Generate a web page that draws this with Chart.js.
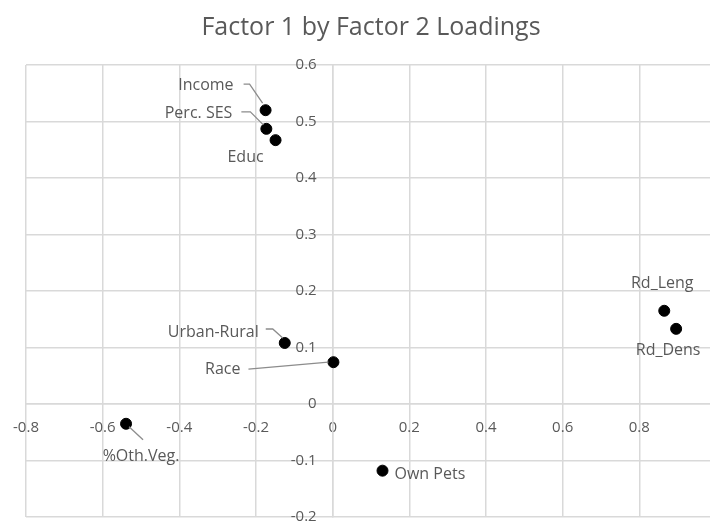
<!DOCTYPE html>
<html>
<head>
<meta charset="utf-8">
<script src="https://cdn.jsdelivr.net/npm/chart.js@4/dist/chart.umd.min.js"></script>
<style>
  html, body { margin: 0; padding: 0; background: #fff; overflow: hidden; }
  #wrap { width: 718px; height: 521px; }
</style>
</head>
<body>
<div id="wrap"><canvas id="chart"></canvas></div>
<script>
"use strict"

// nomi delle variabili e carichi fattoriali
const varNames = ["Income", "Perc. SES", "Educ", "Urban-Rural", "Race", "%Oth.Veg.", "Own Pets", "Rd_Leng", "Rd_Dens"];
const factor2 = [-0.175, -0.173, -0.149, -0.125, 0.002, -0.539, 0.130, 0.865, 0.896];
const factor1 = [0.520, 0.487, 0.467, 0.108, 0.074, -0.035, -0.118, 0.165, 0.133];

const xTicks = [-0.8, -0.6, -0.4, -0.2, 0, 0.2, 0.4, 0.6, 0.8, 1.0];
const yTicks = [-0.2, -0.1, 0, 0.1, 0.2, 0.3, 0.4, 0.5, 0.6];

// posizione delle etichette rispetto al punto (solo stile)
const labelLayout = {
    "Income":      { dx: -32, dy: -25, align: "right",  leader: [[-22, -26], [-16, -26], [-3, -7]] },
    "Perc. SES":   { dx: -34, dy: -15, align: "right",  leader: [[-25, -17], [-16, -17], [-3, -4]] },
    "Educ":        { dx: -30, dy: 17,  align: "center", leader: null },
    "Urban-Rural": { dx: -26, dy: -11, align: "right",  leader: [[-19, -14], [-12, -14], [-2, -5]] },
    "Race":        { dx: -93, dy: 7,   align: "right",  leader: [[-85, 7], [-5, 0]] },
    "%Oth.Veg.":   { dx: 15,  dy: 33,  align: "center", leader: [[3, 3], [17, 16]] },
    "Own Pets":    { dx: 12,  dy: 4,   align: "left",   leader: null },
    "Rd_Leng":     { dx: -2,  dy: -27, align: "center", leader: null },
    "Rd_Dens":     { dx: -8,  dy: 22,  align: "center", leader: null }
};

const textColor = "#595959";
const gridColor = "#d9d9d9";
const fontFamily = "'Open Sans', sans-serif";

let points = [];
for (let i = 0; i < varNames.length; i++) {
    points.push({ x: factor2[i], y: factor1[i] });
}

// disegna le etichette dei punti con le linee guida
const pointLabels = {
    id: "pointLabels",
    afterDatasetsDraw(chart) {
        const ctx = chart.ctx;
        const meta = chart.getDatasetMeta(0);
        ctx.save();
        ctx.font = "16px " + fontFamily;
        ctx.textBaseline = "middle";
        meta.data.forEach((pt, i) => {
            const lay = labelLayout[varNames[i]];
            if (lay.leader) {
                ctx.strokeStyle = "#8c8c8c";
                ctx.lineWidth = 1.3;
                ctx.beginPath();
                lay.leader.forEach((p, k) => {
                    if (k == 0) ctx.moveTo(pt.x + p[0], pt.y + p[1]);
                    else ctx.lineTo(pt.x + p[0], pt.y + p[1]);
                });
                ctx.stroke();
            }
            ctx.fillStyle = textColor;
            ctx.textAlign = lay.align;
            ctx.fillText(varNames[i], pt.x + lay.dx, pt.y + lay.dy);
        });
        ctx.restore();
    }
};

// gli assi al centro non devono rubare spazio all'area del grafico
let noSpace = function(scale){
    if (scale.isHorizontal()) scale.height = 0;
    else scale.width = 0;
    scale.paddingTop = 0;
    scale.paddingBottom = 0;
    scale.paddingLeft = 0;
    scale.paddingRight = 0;
}

// etichette dell'asse y staccate dalla linea dello zero
let shiftYLabels = function(scale){
    if (scale._shifted) return;
    const orig = scale.drawLabels;
    scale.drawLabels = function(area){
        this.ctx.save();
        this.ctx.translate(-16, 0);
        orig.call(this, area);
        this.ctx.restore();
    };
    scale._shifted = true;
}

new Chart(document.getElementById("chart"), {
    type: "scatter",
    data: {
        datasets: [{
            data: points,
            backgroundColor: "#000",
            borderColor: "#000",
            pointRadius: 5.5,
            pointHoverRadius: 5.5
        }]
    },
    options: {
        responsive: true,
        maintainAspectRatio: false,
        animation: false,
        events: [],
        layout: { autoPadding: false, padding: { left: 26, right: 2, bottom: 4 } },
        plugins: {
            legend: { display: false },
            tooltip: { enabled: false },
            title: {
                display: true,
                text: "Factor 1 by Factor 2 Loadings",
                color: textColor,
                font: { family: fontFamily, size: 25, weight: "normal" },
                padding: { top: 13, bottom: 22 }
            }
        },
        scales: {
            x: {
                type: "linear",
                min: -0.8,
                max: 1.0,
                position: { y: 0 },
                afterBuildTicks: (scale) => { scale.ticks = xTicks.map(v => ({ value: v })); },
                afterFit: noSpace,
                grid: { color: gridColor, lineWidth: 1.5, drawTicks: false },
                border: { color: gridColor, width: 1.5 },
                ticks: {
                    color: textColor,
                    font: { family: fontFamily, size: 15 },
                    padding: 15,
                    maxRotation: 0,
                    callback: (v) => (v >= 1 ? "" : String(Math.round(v * 10) / 10))
                }
            },
            y: {
                type: "linear",
                min: -0.2,
                max: 0.6,
                position: { x: 0 },
                afterBuildTicks: (scale) => { scale.ticks = yTicks.map(v => ({ value: v })); },
                afterFit: noSpace,
                afterUpdate: shiftYLabels,
                grid: { color: gridColor, lineWidth: 1.5, drawTicks: false },
                border: { color: gridColor, width: 1.5 },
                ticks: {
                    color: textColor,
                    font: { family: fontFamily, size: 15 },
                    callback: (v) => String(Math.round(v * 10) / 10)
                }
            }
        }
    },
    plugins: [pointLabels]
});
</script>
</body>
</html>
